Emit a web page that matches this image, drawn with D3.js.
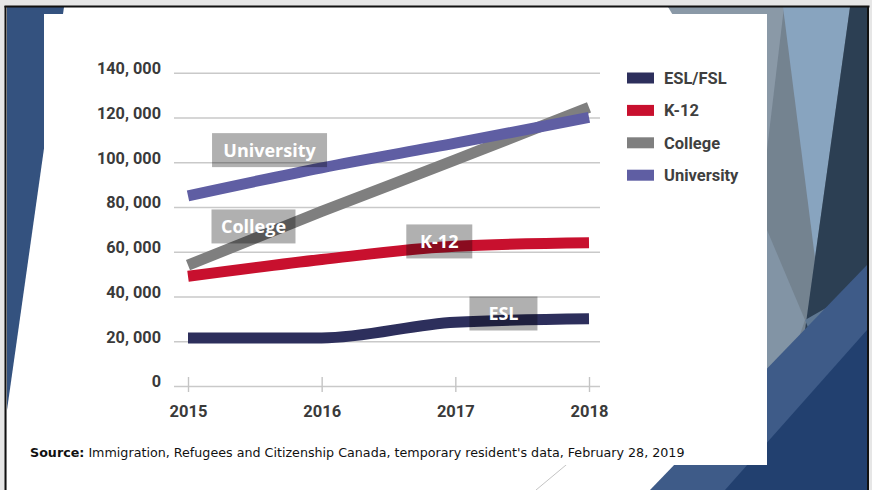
<!DOCTYPE html>
<html>
<head>
<meta charset="utf-8">
<script src="https://cdn.jsdelivr.net/npm/d3@7"></script>
<style>
  html, body { margin: 0; padding: 0; background: #e6e6e6; }
  svg { display: block; }
</style>
</head>
<body>
<svg id="slide" width="872" height="490"></svg>
<script>
// International students in Canada by level of study
const years = [2015, 2016, 2017, 2018];
const seriesNames = ["ESL/FSL", "K-12", "College", "University"];
const eslValues = [21500, 21500, 28500, 30000];
const k12Values = [49000, 56500, 62500, 64000];
const collegeValues = [54000, 78000, 101000, 124500];
const universityValues = [85000, 97500, 108500, 120000];
const seriesColors = ["#2d2f5c", "#c8102e", "#7f7f7f", "#5f5ea3"];
const yTicks = [0, 20000, 40000, 60000, 80000, 100000, 120000, 140000];

// Grey call-out tags placed on the lines
const calloutText = ["University", "College", "K-12", "ESL"];
const calloutYear = [2015.61, 2015.49, 2016.88, 2017.36];
const calloutValue = [105400, 71300, 64600, 32400];
const calloutWidth = [115, 84, 66, 68];

const sourceBold = "Source:";
const sourceText = " Immigration, Refugees and Citizenship Canada, temporary resident's data, February 28, 2019";

const svg = d3.select("#slide");

// ---- slide background ----
svg.append("rect").attr("x", 7).attr("y", 7).attr("width", 860).attr("height", 483).attr("fill", "#ffffff");

// right-hand decorative facets
const facets = [
  { pts: [[767,7],[867,7],[867,490],[767,490]], fill: "#748390" },
  { pts: [[668,7],[784,7],[767,150],[700,60]], fill: "#8a99a7" },
  { pts: [[767,230],[805,320],[767,430]], fill: "#8294a5" },
  { pts: [[783,7],[850,7],[815,258]], fill: "#88a4bf" },
  { pts: [[850,7],[867,7],[867,340],[805,330],[815,258]], fill: "#2c3f53" },
  { pts: [[805,320],[840,300],[845,420]], fill: "#5f7893" },
  { pts: [[650,490],[867,265],[867,490]], fill: "#3e5b88" },
  { pts: [[725,490],[867,330],[867,490]], fill: "#22406f" }
];
svg.selectAll("polygon.facet").data(facets).join("polygon")
  .attr("class", "facet")
  .attr("points", d => d.pts.map(p => p.join(",")).join(" "))
  .attr("fill", d => d.fill);

// left blue wedge
svg.append("polygon").attr("points", "7,7 64,7 7,410").attr("fill", "#34527f");

// faint connector line below the picture
svg.append("line").attr("x1", 536).attr("y1", 490).attr("x2", 578).attr("y2", 455)
  .attr("stroke", "#c4c4c4").attr("stroke-width", 1);

// chart picture panel
svg.append("rect").attr("x", 44).attr("y", 14).attr("width", 723).attr("height", 451).attr("fill", "#ffffff");

// frame
svg.append("rect").attr("x", 0).attr("y", 0).attr("width", 872).attr("height", 5.5).attr("fill", "#e6e6e6");
svg.append("rect").attr("x", 0).attr("y", 0).attr("width", 4.5).attr("height", 490).attr("fill", "#e6e6e6");
svg.append("rect").attr("x", 869.5).attr("y", 0).attr("width", 3).attr("height", 490).attr("fill", "#e6e6e6");
svg.append("line").attr("x1", 4.5).attr("y1", 6.5).attr("x2", 869.5).attr("y2", 6.5).attr("stroke", "#111").attr("stroke-width", 2);
svg.append("line").attr("x1", 5.5).attr("y1", 6).attr("x2", 5.5).attr("y2", 490).attr("stroke", "#111").attr("stroke-width", 2);
svg.append("line").attr("x1", 868).attr("y1", 6).attr("x2", 868).attr("y2", 490).attr("stroke", "#111").attr("stroke-width", 2);

// ---- chart ----
const x = d3.scaleLinear().domain([2015, 2018]).range([188, 589]);
const y = d3.scaleLinear().domain([0, 140000]).range([386, 72.7]);
const gridRight = 600, gridLeft = 174;

const fmt = v => v === 0 ? "0" : d3.format(",")(v).replace(",", ", ");

const yAxis = svg.append("g")
  .attr("transform", `translate(${gridRight},0)`)
  .call(d3.axisLeft(y).tickValues(yTicks).tickFormat(fmt).tickSize(gridRight - gridLeft).tickPadding(13));
yAxis.select(".domain").remove();
yAxis.selectAll(".tick line").attr("stroke", "#c9c9c9").attr("stroke-width", 1.6);
yAxis.selectAll(".tick text")
  .attr("dy", "0.05em")
  .attr("fill", "#3a3a3a")
  .style("font-family", "Roboto, sans-serif")
  .style("font-weight", "700")
  .style("font-size", "16.3px");

const xAxis = svg.append("g")
  .attr("transform", `translate(0,${y(0)})`)
  .call(d3.axisBottom(x).tickValues(years).tickFormat(d3.format("d")).tickSize(6));
xAxis.select(".domain").remove();
xAxis.selectAll(".tick line").attr("y1", -9).attr("y2", 6).attr("stroke", "#c4c4c4").attr("stroke-width", 1.4);
xAxis.selectAll(".tick text")
  .attr("y", 31).attr("dy", 0)
  .attr("fill", "#3a3a3a")
  .style("font-family", "Roboto, sans-serif")
  .style("font-weight", "700")
  .style("font-size", "16.5px");

const seriesValues = [eslValues, k12Values, collegeValues, universityValues];
const line = d3.line()
  .x((d, i) => x(years[i]))
  .y(d => y(d))
  .curve(d3.curveMonotoneX);

svg.append("g").selectAll("path").data(seriesValues).join("path")
  .attr("d", d => line(d))
  .attr("fill", "none")
  .attr("stroke", (d, i) => seriesColors[i])
  .attr("stroke-width", 11)
  .attr("stroke-linecap", "butt")
  .attr("stroke-linejoin", "round");

// call-out tags
const tags = svg.append("g").selectAll("g").data(calloutText).join("g")
  .attr("transform", (d, i) => `translate(${x(calloutYear[i])},${y(calloutValue[i])})`);
tags.append("rect")
  .attr("x", (d, i) => -calloutWidth[i] / 2).attr("y", -17)
  .attr("width", (d, i) => calloutWidth[i]).attr("height", 34)
  .attr("fill", "rgba(0,0,0,0.31)");
tags.append("text")
  .attr("text-anchor", "middle").attr("y", 7)
  .attr("fill", "#ffffff")
  .style("font-family", "'Open Sans', sans-serif")
  .style("font-weight", "700")
  .style("font-size", "18px")
  .text(d => d);

// legend
const legend = svg.append("g").selectAll("g").data(seriesNames).join("g")
  .attr("transform", (d, i) => `translate(627,${78 + i * 32.4})`);
legend.append("rect").attr("x", 0).attr("y", -5.5).attr("width", 27).attr("height", 11)
  .attr("fill", (d, i) => seriesColors[i]);
legend.append("text").attr("x", 37).attr("y", 6)
  .attr("fill", "#3f3f3f")
  .style("font-family", "Roboto, sans-serif")
  .style("font-weight", "700")
  .style("font-size", "16.5px")
  .text(d => d);

// source note
const src = svg.append("text")
  .attr("x", 0).attr("y", 0)
  .attr("fill", "#111")
  .style("font-family", "'DejaVu Sans', Verdana, sans-serif")
  .style("font-size", "12px");
src.append("tspan").style("font-weight", "700").text(sourceBold);
src.append("tspan").text(sourceText);
const srcW = src.node().getComputedTextLength();
src.attr("transform", `translate(30,457) scale(${655 / srcW},1)`);
</script>
</body>
</html>
